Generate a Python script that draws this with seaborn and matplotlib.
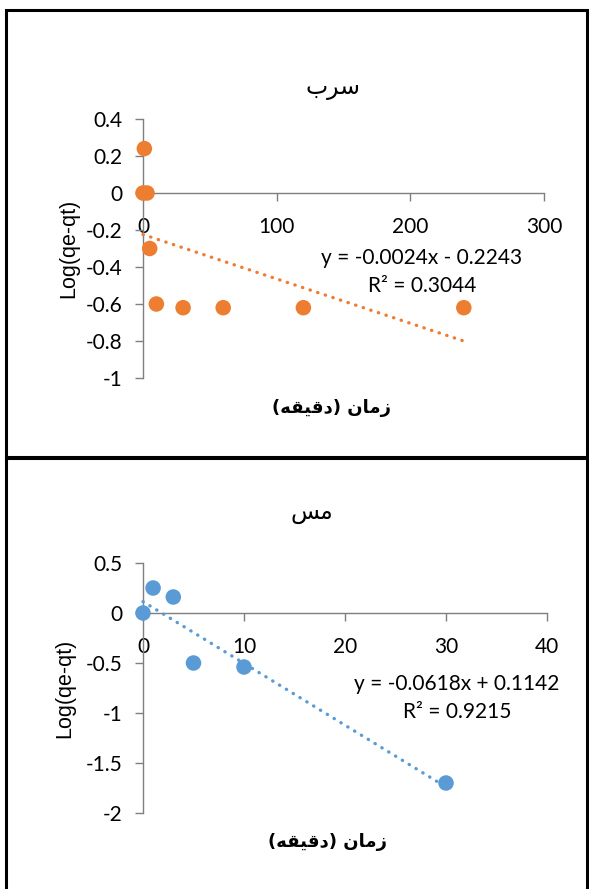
"""
Pseudo-first-order kinetics plots: Pb (سرب) and Cu (مس)
"""

import numpy as np
import pandas as pd
import matplotlib
matplotlib.use("Agg")
import matplotlib.pyplot as plt
from matplotlib.patches import Rectangle
from matplotlib.ticker import FuncFormatter
import seaborn as sns

# ---------------------------------------------------------------------------
# Data
# ---------------------------------------------------------------------------

# Lead (top panel)
pb_time = [0, 1, 3, 5, 10, 30, 60, 120, 240]
pb_log = [0.0, 0.24, 0.0, -0.30, -0.60, -0.62, -0.62, -0.62, -0.62]
pb_slope, pb_intercept, pb_r2 = -0.0024, -0.2243, 0.3044

# Copper (bottom panel)
cu_time = [0, 1, 3, 5, 10, 30]
cu_log = [0.0, 0.25, 0.16, -0.50, -0.54, -1.70]
cu_slope, cu_intercept, cu_r2 = -0.0618, 0.1142, 0.9215

pb_xticks = [0, 100, 200, 300]
pb_yticks = [-1, -0.8, -0.6, -0.4, -0.2, 0, 0.2, 0.4]
cu_xticks = [0, 10, 20, 30, 40]
cu_yticks = [-2, -1.5, -1, -0.5, 0, 0.5]

# Arabic labels, pre-shaped (presentation forms, visual order) since
# matplotlib does no bidi/shaping
title_pb = "\uFE8F\uFEAE\uFEB3"                        # سرب
title_cu = "\uFEB2\uFEE3"                              # مس
xlabel = ("(\uFEEA\uFED8\uFEF4\uFED7\uFEA9) "
          "\uFEE5\uFE8E\uFEE3\uFEAF")                  # زمان (دقیقه)
ylabel = "Log(qe-qt)"

# ---------------------------------------------------------------------------
# Style
# ---------------------------------------------------------------------------

sns.set_theme(style="white")
plt.rcParams["font.family"] = ["Lato", "DejaVu Sans"]

W, H = 589, 889
ORANGE = "#ED7D31"
BLUE = "#5B9BD5"
AXIS = "#7f7f7f"
TEXT = "black"


def px(x, y):
    return x / W, 1 - y / H


def fmt(v, _):
    return f"{v:g}"


def trend_line(x, slope, intercept):
    xs = np.array([min(x), max(x)], dtype=float)
    return pd.DataFrame({"x": xs, "y": slope * xs + intercept})


def style_axes(ax, xticks, yticks):
    ax.set_xlim(xticks[0], xticks[-1])
    ax.set_ylim(yticks[0], yticks[-1])
    ax.set_xticks(xticks)
    ax.set_yticks(yticks)
    ax.xaxis.set_major_formatter(FuncFormatter(fmt))
    ax.yaxis.set_major_formatter(FuncFormatter(fmt))
    for s in ["top", "right"]:
        ax.spines[s].set_visible(False)
    ax.spines["bottom"].set_position(("data", 0))
    for s in ["bottom", "left"]:
        ax.spines[s].set_color(AXIS)
        ax.spines[s].set_linewidth(1.0)
    ax.tick_params(axis="both", direction="out", length=6, width=1.0,
                   color=AXIS, labelcolor=TEXT, labelsize=15,
                   bottom=True, left=True)
    ax.tick_params(axis="x", pad=11)
    ax.tick_params(axis="y", pad=9)
    ax.set_xlabel("")
    ax.set_ylabel("")
    ax.grid(False)
    ax.set_facecolor("none")


def panel(ax, t, v, slope, intercept, color):
    df = pd.DataFrame({"x": t, "y": v})
    sns.scatterplot(data=df, x="x", y="y", ax=ax, color=color, s=125,
                    edgecolor="none", zorder=3, clip_on=False)
    line = trend_line(t, slope, intercept)
    sns.lineplot(data=line, x="x", y="y", ax=ax, color=color, lw=2.4,
                 linestyle=(0, (0.1, 2.3)), dash_capstyle="round",
                 zorder=4, clip_on=False)


fig = plt.figure(figsize=(W / 100, H / 100), dpi=100)

# panel borders
fig.add_artist(Rectangle(px(6, 457), 581 / W, 447 / H, transform=fig.transFigure,
                         fill=False, edgecolor="black", lw=2.2))
fig.add_artist(Rectangle(px(6, 895), 581 / W, 437 / H, transform=fig.transFigure,
                         fill=False, edgecolor="black", lw=2.2))

# ---------------------------------------------------------------------------
# Top: lead
# ---------------------------------------------------------------------------

ax1 = fig.add_axes([143 / W, 1 - 378 / H, (544 - 143) / W, (378 - 119) / H])
panel(ax1, pb_time, pb_log, pb_slope, pb_intercept, ORANGE)
style_axes(ax1, pb_xticks, pb_yticks)

fig.text(*px(333, 88), title_pb, ha="center", va="center", fontsize=17,
         family=["DejaVu Sans"], color="black")
fig.text(*px(69, 248), ylabel, ha="center", va="center", rotation=90,
         fontsize=15.5, family=["Liberation Sans"], color="black")
fig.text(*px(332, 408), xlabel, ha="center", va="center", fontsize=13,
         family=["DejaVu Sans"], weight="bold", color="black")
fig.text(*px(422, 258), f"y = {pb_slope:.4f}x - {abs(pb_intercept):.4f}",
         ha="center", va="center", fontsize=15, color="black")
fig.text(*px(422, 286), f"R² = {pb_r2:.4f}",
         ha="center", va="center", fontsize=15, color="black")

# ---------------------------------------------------------------------------
# Bottom: copper
# ---------------------------------------------------------------------------

ax2 = fig.add_axes([143 / W, 1 - 813 / H, (547 - 143) / W, (813 - 563) / H])
panel(ax2, cu_time, cu_log, cu_slope, cu_intercept, BLUE)
style_axes(ax2, cu_xticks, cu_yticks)

fig.text(*px(312, 512), title_cu, ha="center", va="center", fontsize=17,
         family=["DejaVu Sans"], color="black")
fig.text(*px(65, 688), ylabel, ha="center", va="center", rotation=90,
         fontsize=15.5, family=["Liberation Sans"], color="black")
fig.text(*px(328, 842), xlabel, ha="center", va="center", fontsize=13,
         family=["DejaVu Sans"], weight="bold", color="black")
fig.text(*px(457, 684), f"y = {cu_slope:.4f}x + {cu_intercept:.4f}",
         ha="center", va="center", fontsize=15, color="black")
fig.text(*px(457, 712), f"R² = {cu_r2:.4f}",
         ha="center", va="center", fontsize=15, color="black")

fig.savefig("out.png", dpi=100, facecolor="white")
